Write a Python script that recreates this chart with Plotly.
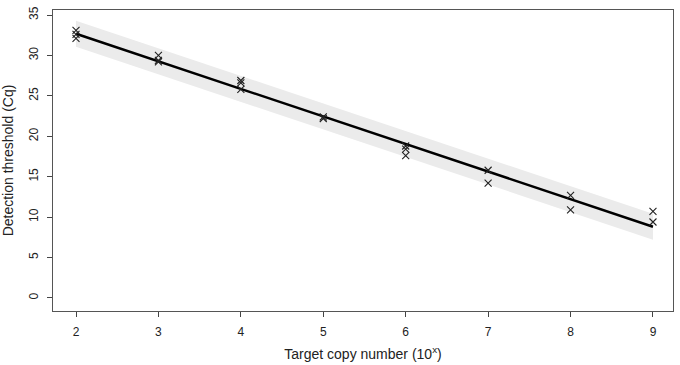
import numpy as np
import plotly.graph_objects as go

# Data
copy_exp = [2, 2, 2, 3, 3, 3, 4, 4, 4, 5, 5, 6, 6, 6, 7, 7, 8, 8, 9, 9]
cq_values = [33.1, 32.6, 32.1, 30.0, 29.4, 29.2, 26.9, 26.6, 25.8, 22.4, 22.2,
             18.8, 18.4, 17.6, 15.8, 14.2, 12.7, 10.9, 10.7, 9.4]
band_half_width = 1.6
x_ticks = [2, 3, 4, 5, 6, 7, 8, 9]
y_ticks = [0, 5, 10, 15, 20, 25, 30, 35]

x = np.array(copy_exp, dtype=float)
y = np.array(cq_values, dtype=float)
slope, intercept = np.polyfit(x, y, 1)
xs = np.linspace(min(x_ticks), max(x_ticks), 50)
fit = intercept + slope * xs
upper = fit + band_half_width
lower = fit - band_half_width

fig = go.Figure()
fig.add_trace(go.Scatter(x=np.concatenate([xs, xs[::-1]]), y=np.concatenate([upper, lower[::-1]]),
                         fill="toself", fillcolor="#ebebeb", line=dict(width=0),
                         mode="lines", hoverinfo="skip", showlegend=False))
fig.add_trace(go.Scatter(x=xs, y=fit, mode="lines", line=dict(color="black", width=2.5),
                         showlegend=False))
fig.add_trace(go.Scatter(x=x, y=y, mode="markers",
                         marker=dict(symbol="x-thin", size=7, line=dict(width=1.1, color="#222222")),
                         showlegend=False))

font = dict(family="Liberation Sans, Arial, sans-serif", size=12, color="#222222")
fig.update_layout(
    width=680, height=365,
    margin=dict(l=53, r=7, t=10, b=54),
    paper_bgcolor="white", plot_bgcolor="white",
    font=font,
    xaxis=dict(range=[1.721, 9.243], tickvals=x_ticks, ticks="outside", ticklen=5,
               tickcolor="#444444", showline=True, linecolor="#555555", linewidth=1.3,
               mirror=True, showgrid=False, zeroline=False, automargin=False,
               ticklabelstandoff=4,
               title=dict(text="Target copy number (10<sup>x</sup>)", standoff=11)),
    yaxis=dict(range=[-1.61, 35.62], tickvals=y_ticks, ticks="outside", ticklen=5,
               tickcolor="#444444", showline=True, linecolor="#555555", linewidth=1.3,
               mirror=True, showgrid=False, zeroline=False, tickangle=-90, automargin=False,
               ticklabelstandoff=4,
               title=dict(text="Detection threshold (Cq)", standoff=10)),
)
fig.write_html("out.html", config={"displayModeBar": False},
               post_script="document.body.style.margin='0';")
